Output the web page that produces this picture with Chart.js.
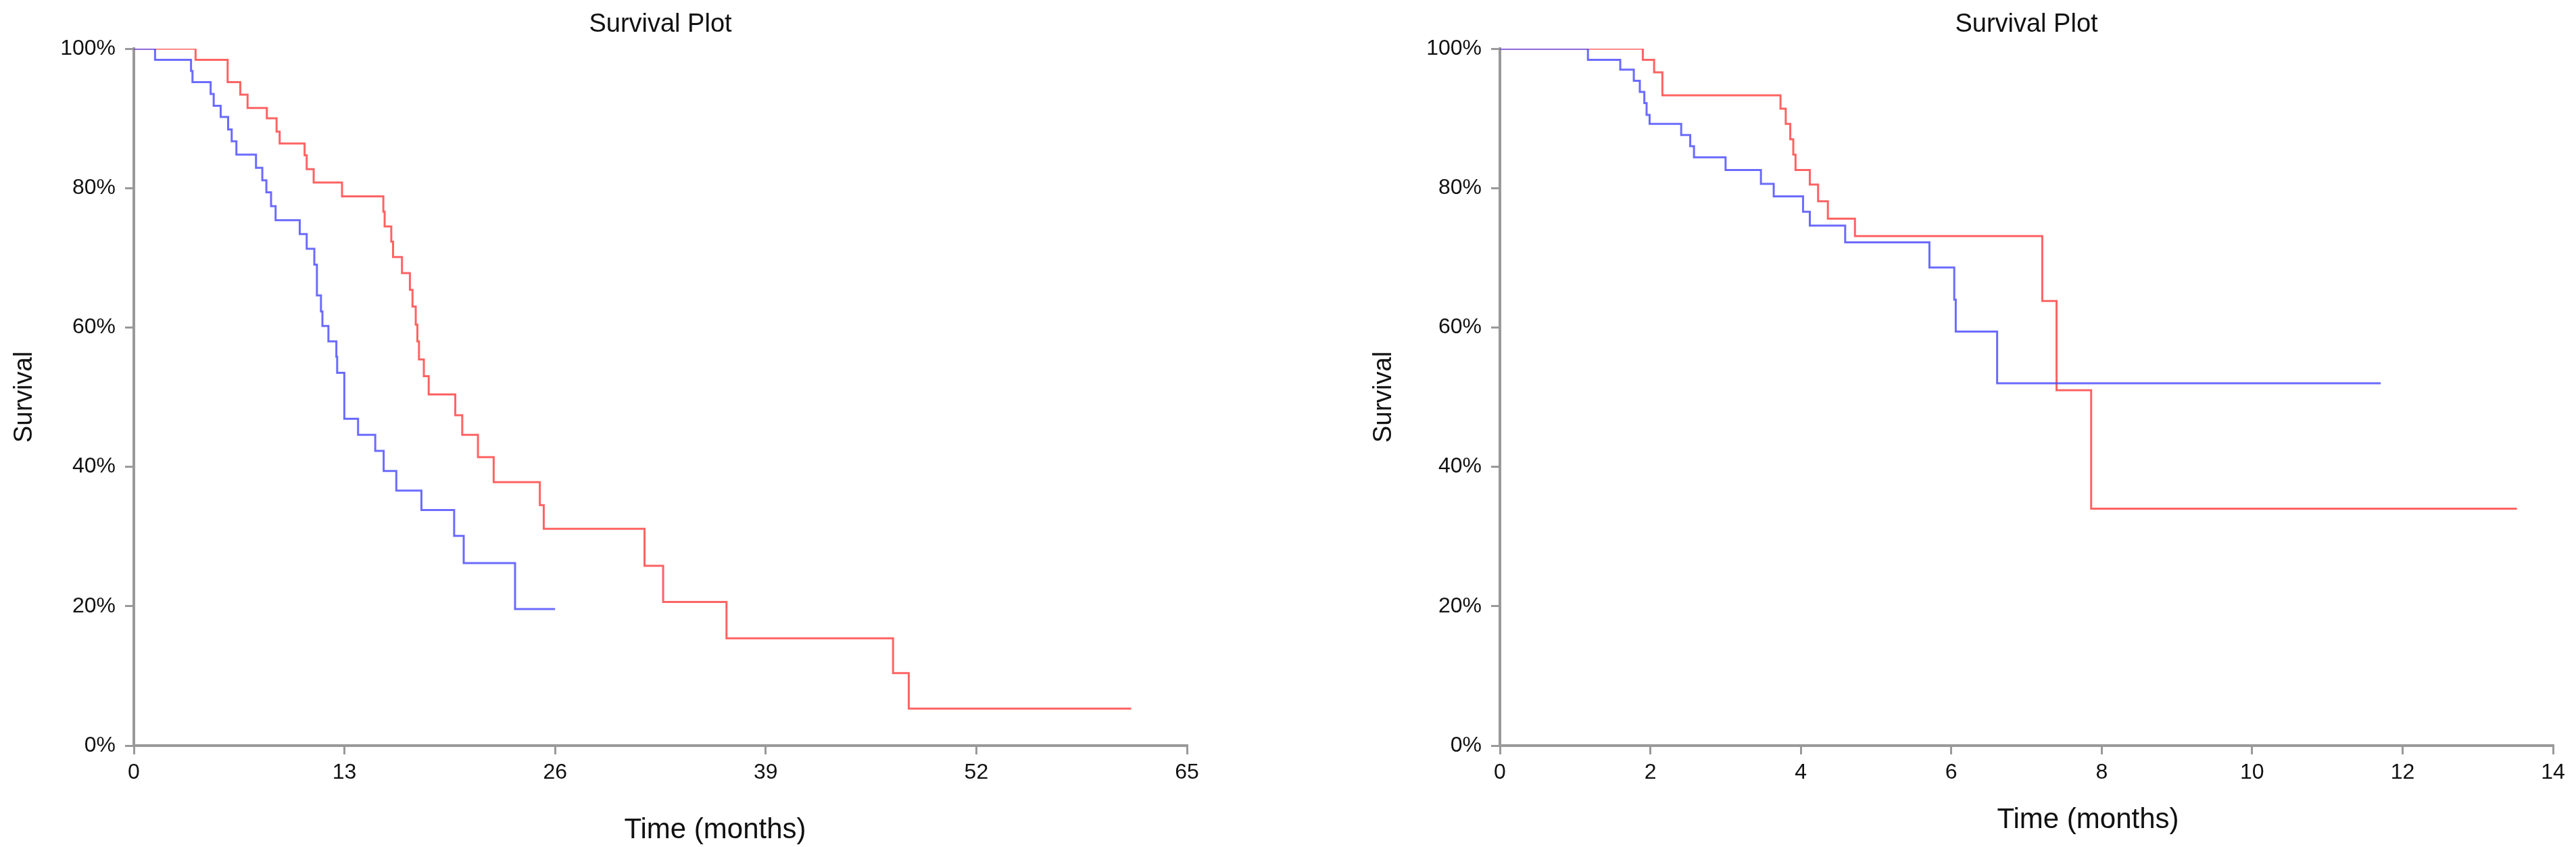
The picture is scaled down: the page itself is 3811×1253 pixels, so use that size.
<!DOCTYPE html>
<html lang="en">
  <head>
    <meta charset="UTF-8" />
    <title>Survival Plot</title>
    <script src="https://cdn.jsdelivr.net/npm/chart.js"></script>
    <style>
      body {
        margin: 0;
        padding: 0;
        background: #fff;
        overflow: hidden;
      }
      .wrap {
        display: flex;
        width: 3811px;
        height: 1253px;
      }
      canvas {
        display: block;
      }
    </style>
  </head>
  <body>
    <div class="wrap">
      <canvas id="leftChart" width="1905" height="1253"></canvas>
      <canvas id="rightChart" width="1906" height="1253"></canvas>
    </div>

    <script>
      // left plot (time in months, survival in %)
      const leftBlueTimes = [0, 1.31, 3.53, 3.62, 4.74, 4.93, 5.36, 5.82, 6.04, 6.33, 7.54, 7.93, 8.18, 8.47, 8.75, 10.24, 10.67, 11.14, 11.3, 11.55, 11.64, 12.01, 12.5, 12.55, 12.99, 13.84, 14.9, 15.42, 16.2, 17.75, 19.77, 20.36, 23.53, 26.0];
      const leftBlueSurv = [100, 98.4, 96.8, 95.2, 93.5, 91.8, 90.2, 88.4, 86.7, 84.8, 82.9, 81.1, 79.4, 77.4, 75.4, 73.4, 71.3, 69.0, 64.6, 62.3, 60.2, 58.0, 55.8, 53.5, 46.9, 44.6, 42.3, 39.4, 36.6, 33.8, 30.1, 26.2, 19.6, 19.6];
      const leftRedTimes = [0, 3.81, 5.79, 6.57, 7.02, 8.21, 8.81, 9.0, 10.54, 10.67, 11.1, 12.85, 15.4, 15.48, 15.89, 16.0, 16.55, 17.04, 17.2, 17.4, 17.5, 17.6, 17.9, 18.2, 19.84, 20.27, 21.24, 22.21, 25.06, 25.3, 31.52, 32.67, 36.58, 46.86, 47.83, 61.56];
      const leftRedSurv = [100, 98.4, 95.2, 93.4, 91.5, 90.0, 88.1, 86.4, 84.7, 82.7, 80.8, 78.8, 76.6, 74.5, 72.3, 70.1, 67.8, 65.4, 63.0, 60.4, 58.0, 55.4, 53.0, 50.4, 47.4, 44.6, 41.4, 37.8, 34.5, 31.1, 25.8, 20.6, 15.4, 10.4, 5.3, 5.3];

      // right plot
      const rightBlueTimes = [0, 1.17, 1.6, 1.78, 1.86, 1.92, 1.95, 1.99, 2.41, 2.53, 2.58, 3.0, 3.47, 3.64, 4.03, 4.12, 4.59, 5.71, 6.04, 6.06, 6.61, 11.71];
      const rightBlueSurv = [100, 98.4, 97.0, 95.4, 93.8, 92.2, 90.5, 89.2, 87.6, 86.0, 84.4, 82.6, 80.6, 78.8, 76.6, 74.6, 72.2, 68.6, 64.0, 59.4, 52.0, 52.0];
      const rightRedTimes = [0, 1.9, 2.05, 2.16, 3.73, 3.8, 3.86, 3.9, 3.93, 4.12, 4.23, 4.36, 4.72, 7.21, 7.4, 7.86, 13.52];
      const rightRedSurv = [100, 98.4, 96.6, 93.3, 91.4, 89.2, 87.0, 84.8, 82.6, 80.5, 78.1, 75.6, 73.1, 63.8, 51.0, 34.0, 34.0];

      const yTicks = [0, 20, 40, 60, 80, 100];
      const leftXTicks = [0, 13, 26, 39, 52, 65];
      const rightXTicks = [0, 2, 4, 6, 8, 10, 12, 14];

      const FONT = '"Liberation Sans", Arial, sans-serif';
      const RED = "rgba(255, 60, 60, 0.8)";
      const BLUE = "rgba(70, 70, 255, 0.8)";
      const AXIS = "#999";

      function toPoints(times, surv) {
        return times.map((t, i) => ({ x: t, y: surv[i] }));
      }

      // x-axis title sits a bit right of centre in the original
      const xTitlePlugin = {
        id: "xTitle",
        afterDraw(chart, args, opts) {
          const { ctx, chartArea } = chart;
          ctx.save();
          ctx.font = "42px " + FONT;
          ctx.fillStyle = "#111";
          ctx.textAlign = "center";
          ctx.textBaseline = "middle";
          ctx.fillText(opts.text, (chartArea.left + chartArea.right) / 2 + opts.dx, opts.y);
          ctx.restore();
        },
      };

      function makeChart(id, blue, red, xTicks, xMax, pad, yWidth, xTitle) {
        const ctx = document.getElementById(id).getContext("2d");
        return new Chart(ctx, {
          type: "line",
          data: {
            datasets: [
              {
                label: "Group 1",
                data: blue,
                borderColor: BLUE,
                borderWidth: 3,
                stepped: "before",
                pointRadius: 0,
                fill: false,
              },
              {
                label: "Group 2",
                data: red,
                borderColor: RED,
                borderWidth: 3,
                stepped: "before",
                pointRadius: 0,
                fill: false,
              },
            ],
          },
          plugins: [xTitlePlugin],
          options: {
            responsive: false,
            animation: false,
            devicePixelRatio: 1,
            layout: { padding: pad },
            plugins: {
              legend: { display: false },
              tooltip: { enabled: false },
              title: {
                display: true,
                text: "Survival Plot",
                fullSize: false,
                color: "#111",
                font: { family: FONT, size: 38, weight: "normal" },
                padding: { top: 14, bottom: 12.4 },
              },
              xTitle: xTitle,
            },
            scales: {
              x: {
                type: "linear",
                min: 0,
                max: xMax,
                afterBuildTicks: (s) => {
                  s.ticks = xTicks.map((v) => ({ value: v }));
                },
                afterFit: (s) => {
                  s.height = 150;
                },
                grid: {
                  drawOnChartArea: false,
                  color: AXIS,
                  lineWidth: 3,
                  tickLength: 13,
                },
                border: { color: AXIS, width: 4 },
                ticks: {
                  color: "#111",
                  padding: 8,
                  maxRotation: 0,
                  font: { family: FONT, size: 32 },
                },
              },
              y: {
                min: 0,
                max: 100,
                afterBuildTicks: (s) => {
                  s.ticks = yTicks.map((v) => ({ value: v }));
                },
                afterFit: (s) => {
                  s.width = yWidth;
                },
                title: {
                  display: true,
                  text: "Survival",
                  color: "#111",
                  font: { family: FONT, size: 38 },
                  padding: { top: 14, bottom: 4 },
                },
                grid: {
                  drawOnChartArea: false,
                  color: AXIS,
                  lineWidth: 3,
                  tickLength: 13,
                },
                border: { color: AXIS, width: 4 },
                ticks: {
                  color: "#111",
                  padding: 14,
                  font: { family: FONT, size: 32 },
                  callback: (v) => v + "%",
                },
              },
            },
          },
        });
      }

      makeChart(
        "leftChart",
        toPoints(leftBlueTimes, leftBlueSurv),
        toPoints(leftRedTimes, leftRedSurv),
        leftXTicks,
        65,
        { left: 0, right: 149, top: 0, bottom: 0 },
        198,
        { text: "Time (months)", dx: 81, y: 1228 }
      );
      makeChart(
        "rightChart",
        toPoints(rightBlueTimes, rightBlueSurv),
        toPoints(rightRedTimes, rightRedSurv),
        rightXTicks,
        14,
        { left: 106, right: 34, top: 0, bottom: 0 },
        208,
        { text: "Time (months)", dx: 91, y: 1213 }
      );
    </script>
  </body>
</html>
